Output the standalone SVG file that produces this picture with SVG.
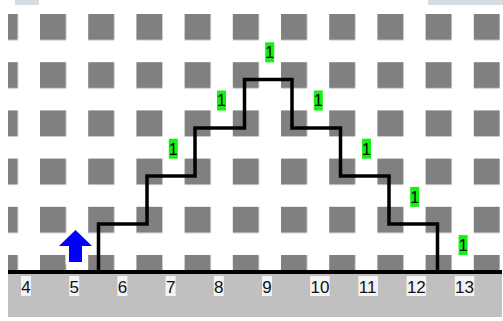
<svg xmlns="http://www.w3.org/2000/svg" width="503" height="321" viewBox="0 0 503 321">
<style>
.sq{fill:#808080}
.lbl{fill:#f4f4f4}
.num{font-family:"Liberation Sans",Arial,sans-serif;font-size:17px;fill:#111}
.gb{fill:#14f014}
.one{font-family:"Liberation Sans",Arial,sans-serif;font-size:16px;fill:#000;text-anchor:middle}
.stair{fill:none;stroke:#000;stroke-width:3.5;stroke-linejoin:miter}
</style>
<defs>
<pattern id="grid" x="-8.2" y="14" width="48.2" height="48.2" patternUnits="userSpaceOnUse">
<rect class="sq" x="0" y="0" width="26" height="26"/>
</pattern>
<clipPath id="area"><rect x="8" y="0" width="492" height="270"/></clipPath>
</defs>
<rect width="503" height="321" fill="#fff"/>
<g id="tabs" fill="#d6dbe4">
<rect x="15" y="0" width="24" height="5"/>
<rect x="428" y="0" width="75" height="5"/>
</g>
<g id="board">
<rect x="8" y="0" width="492" height="270" fill="url(#grid)" clip-path="url(#area)"/>
<rect x="8" y="274" width="494" height="43" fill="#c0c0c0"/>
</g>
<g id="connectors">
<path class="stair" d="M98.5 272 V224 H147 V176 H195 V128 H244.5 V79.5 H292 V128 H340.5 V176 H389 V224 H437.5 V272"/>
<line x1="8" y1="272" x2="502" y2="272" stroke="#000" stroke-width="4"/>
</g>
<g id="arrow">
<path d="M75.5 230 L92 246 L82 246 L82 262 L69 262 L69 246 L59 246 Z" fill="#0000ff" stroke="#fff" stroke-width="7" stroke-linejoin="round" paint-order="stroke"/>
</g>
<g id="ones">
<g id="one-1"><rect class="gb" x="168.8" y="138.7" width="9" height="20"/><text class="one" x="173.3" y="154.5">1</text></g>
<g id="one-2"><rect class="gb" x="217" y="90.5" width="9" height="20"/><text class="one" x="221.5" y="106.3">1</text></g>
<g id="one-3"><rect class="gb" x="265.2" y="42.3" width="9" height="20"/><text class="one" x="269.7" y="58.1">1</text></g>
<g id="one-4"><rect class="gb" x="313.8" y="90.5" width="9" height="20"/><text class="one" x="318.3" y="106.3">1</text></g>
<g id="one-5"><rect class="gb" x="362" y="138.7" width="9" height="20"/><text class="one" x="366.5" y="154.5">1</text></g>
<g id="one-6"><rect class="gb" x="410.2" y="186.9" width="9" height="20"/><text class="one" x="414.7" y="202.7">1</text></g>
<g id="one-7"><rect class="gb" x="458.6" y="235.1" width="9" height="20"/><text class="one" x="463.1" y="250.9">1</text></g>
</g>
<g id="axis">
<g id="n4"><rect class="lbl" x="21" y="276" width="10" height="20"/><text class="num" x="21.3" y="293">4</text></g>
<g id="n5"><rect class="lbl" x="69.2" y="276" width="10" height="20"/><text class="num" x="69.5" y="293">5</text></g>
<g id="n6"><rect class="lbl" x="117.4" y="276" width="10" height="20"/><text class="num" x="117.7" y="293">6</text></g>
<g id="n7"><rect class="lbl" x="165.6" y="276" width="10" height="20"/><text class="num" x="165.9" y="293">7</text></g>
<g id="n8"><rect class="lbl" x="213.8" y="276" width="10" height="20"/><text class="num" x="214.1" y="293">8</text></g>
<g id="n9"><rect class="lbl" x="262" y="276" width="10" height="20"/><text class="num" x="262.3" y="293">9</text></g>
<g id="n10"><rect class="lbl" x="310.2" y="276" width="19.5" height="20"/><text class="num" x="310.5" y="293">10</text></g>
<g id="n11"><rect class="lbl" x="358.4" y="276" width="19.5" height="20"/><text class="num" x="358.7" y="293">11</text></g>
<g id="n12"><rect class="lbl" x="406.6" y="276" width="19.5" height="20"/><text class="num" x="406.9" y="293">12</text></g>
<g id="n13"><rect class="lbl" x="454.8" y="276" width="19.5" height="20"/><text class="num" x="455.1" y="293">13</text></g>
</g>
</svg>
